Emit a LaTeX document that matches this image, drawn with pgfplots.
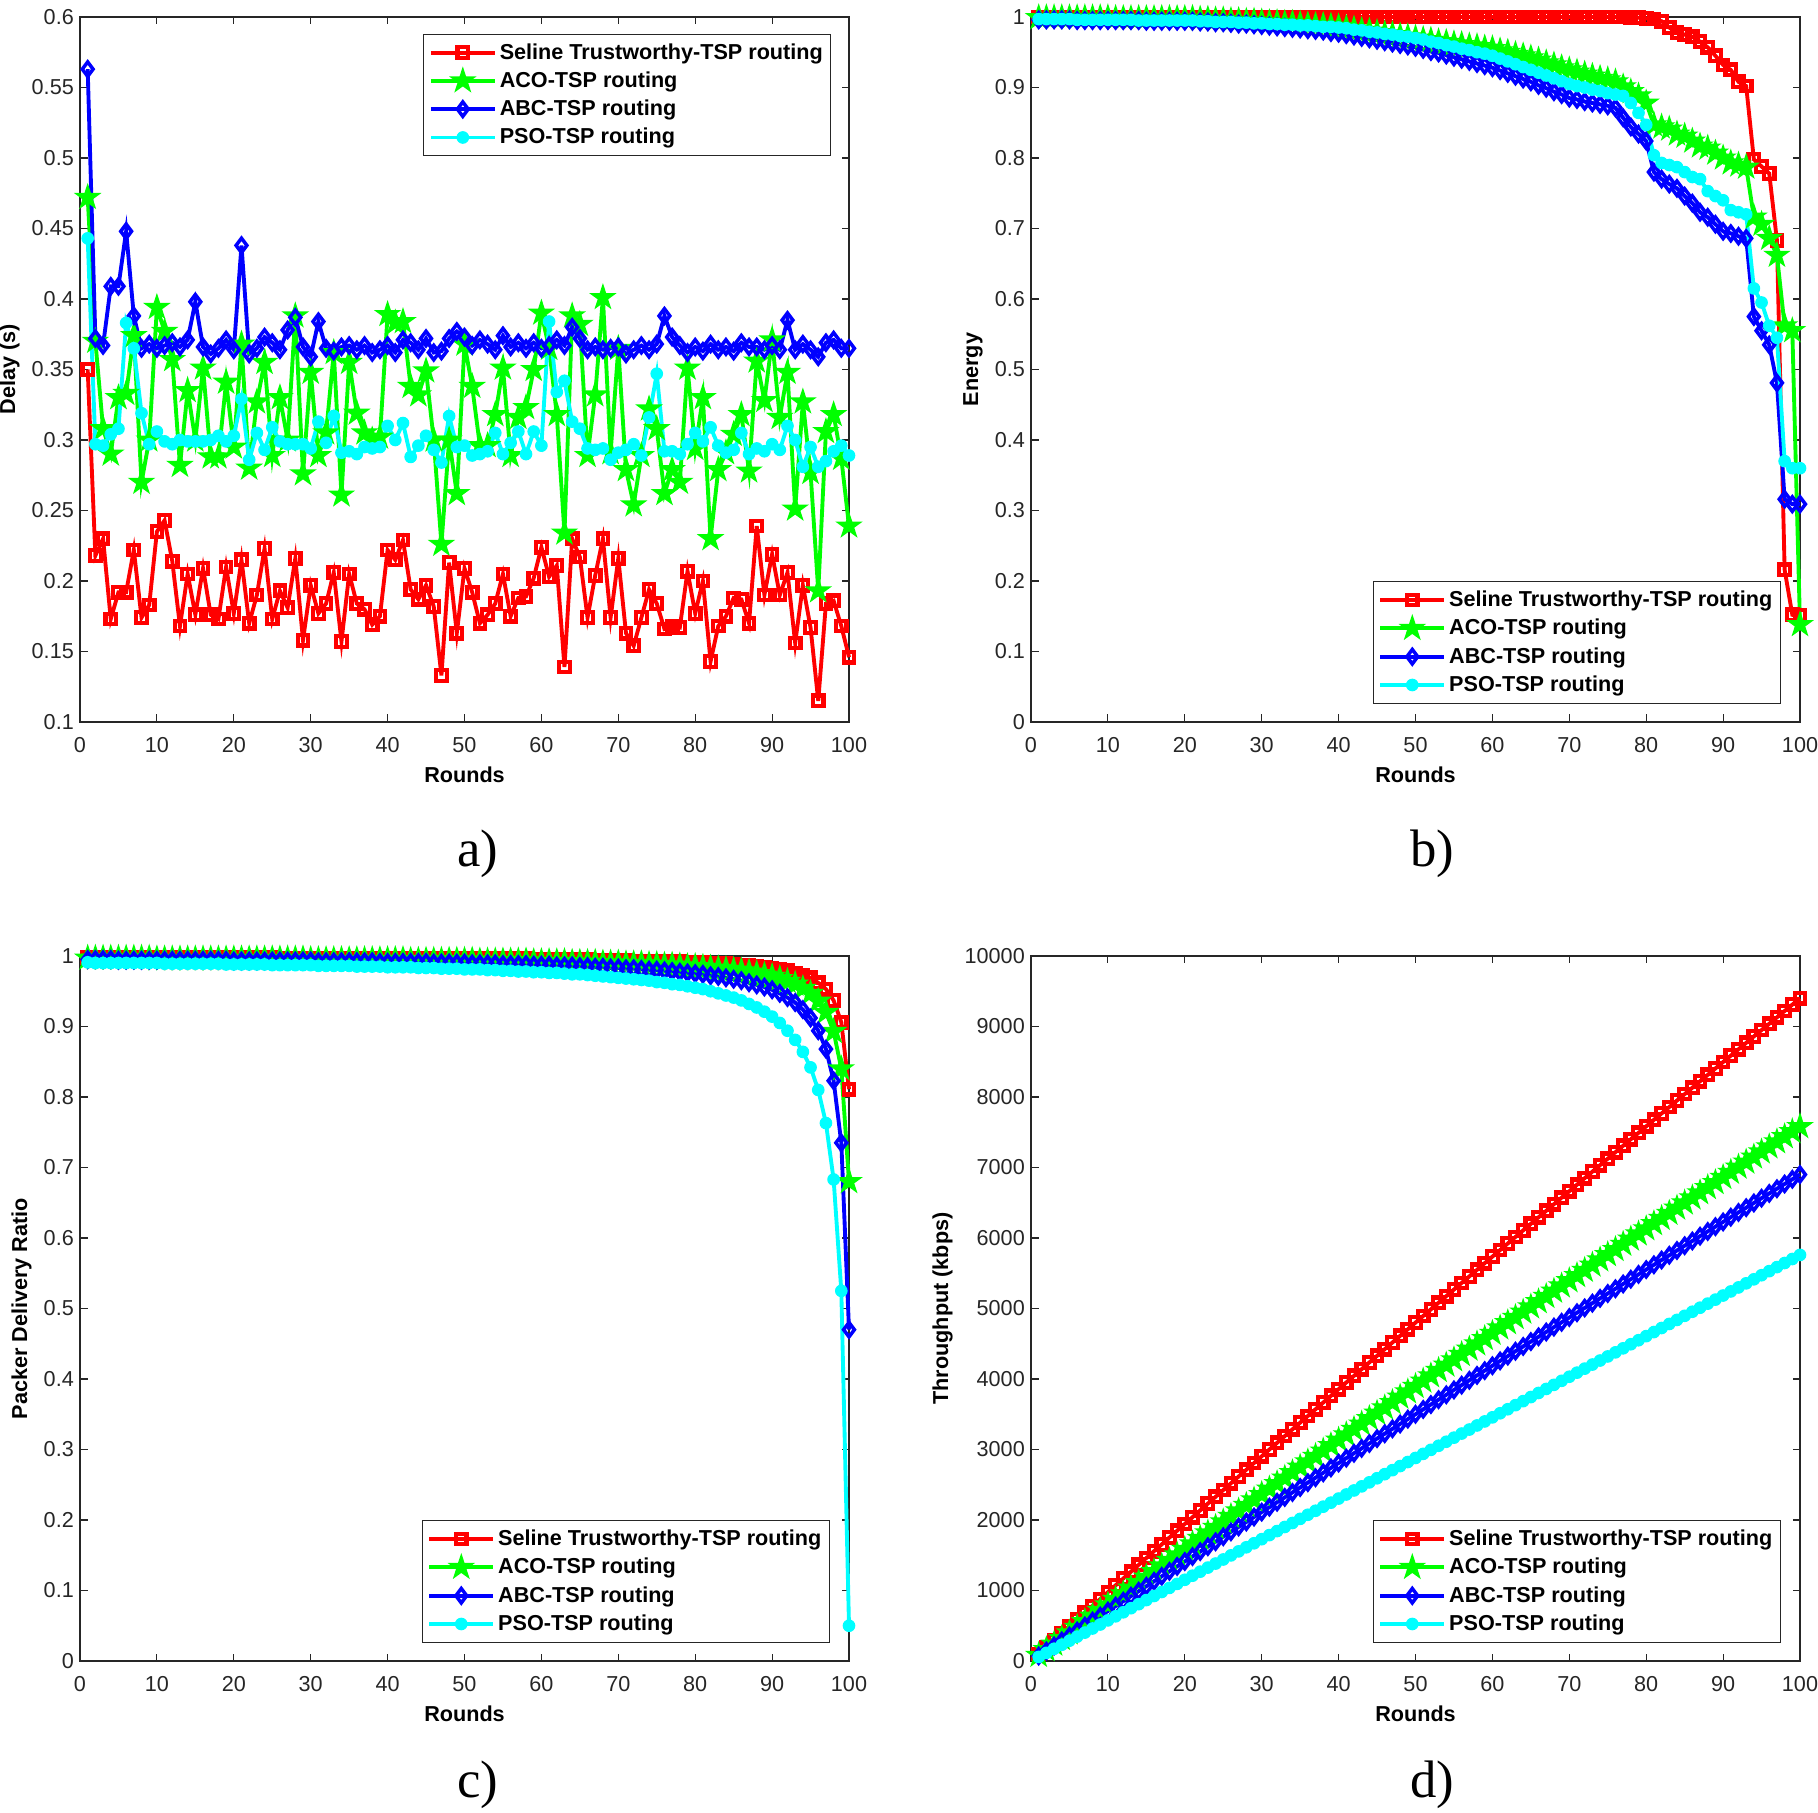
\documentclass[border=0pt]{standalone}
\usepackage{fontspec}
\setmainfont{Liberation Sans}
\newfontfamily\panelfont{Liberation Serif}
\usepackage{pgfplots}
\pgfplotsset{compat=1.18}
\usepackage{pgfplotstable}

\definecolor{mred}{rgb}{1,0,0}
\definecolor{mgreen}{rgb}{0,1,0}
\definecolor{mblue}{rgb}{0,0,1}
\definecolor{mcyan}{rgb}{0,1,1}

% five-pointed star like MATLAB's 'p' marker
\pgfdeclareplotmark{pentagram}{%
  \pgfpathmoveto{\pgfpointpolar{90}{\pgfplotmarksize}}%
  \pgfpathlineto{\pgfpointpolar{126}{0.382\pgfplotmarksize}}%
  \pgfpathlineto{\pgfpointpolar{162}{\pgfplotmarksize}}%
  \pgfpathlineto{\pgfpointpolar{198}{0.382\pgfplotmarksize}}%
  \pgfpathlineto{\pgfpointpolar{234}{\pgfplotmarksize}}%
  \pgfpathlineto{\pgfpointpolar{270}{0.382\pgfplotmarksize}}%
  \pgfpathlineto{\pgfpointpolar{306}{\pgfplotmarksize}}%
  \pgfpathlineto{\pgfpointpolar{342}{0.382\pgfplotmarksize}}%
  \pgfpathlineto{\pgfpointpolar{18}{\pgfplotmarksize}}%
  \pgfpathlineto{\pgfpointpolar{54}{0.382\pgfplotmarksize}}%
  \pgfpathclose
  \pgfusepathqfillstroke
}

\pgfplotsset{
  panel/.style={
    scale only axis, width=15.38cm, height=14.1cm,
    xmin=0, xmax=100, xtick={0,10,...,100},
    clip=false,
    axis line style={black!85, line width=0.6pt},
    every tick/.style={black!85, line width=0.6pt},
    major tick length=1.5mm,
    tick label style={font=\fontsize{12.3}{14}\selectfont, text=black!85},
    xticklabel style={yshift=-1.8mm},
    label style={font=\bfseries\fontsize{12.3}{14}\selectfont},
    every axis x label/.style={at={(axis description cs:0.5,0)}, anchor=center,
      yshift=-10.5mm, font=\bfseries\fontsize{12.3}{14}\selectfont},
    /pgf/number format/assume math mode=true,
    /pgf/number format/1000 sep={},
    scaled ticks=false,
    xlabel={Rounds},
    legend cell align=left,
    legend style={font=\bfseries\fontsize{12.3}{14}\selectfont, draw=black!85,
      line width=0.6pt, inner xsep=1mm, inner ysep=1.2mm, row sep=0.8mm,
      nodes={inner sep=0.6mm}},
    legend image code/.code={\draw[mark repeat=2,mark phase=2]
      plot coordinates {(0cm,0cm) (0.64cm,0cm) (1.28cm,0cm)};},
  },
  sr/.style={mred, line width=2.2pt, mark=square, mark size=3pt,
    mark options={fill=white, line width=2.4pt}},
  sg/.style={mgreen, line width=2.2pt, mark=pentagram, mark size=6.3pt,
    mark options={fill=mgreen, line width=1.2pt}},
  sb/.style={mblue, line width=2.2pt, mark=diamond, mark size=4.1pt,
    mark options={fill=white, line width=2pt}},
  sc/.style={mcyan, line width=2.2pt, mark=*, mark size=3.3pt,
    mark options={fill=mcyan, line width=0.6pt}},
}

% a) delay
\pgfplotstableread{
n r g b c
1 0.350 0.472 0.563 0.443
2 0.218 0.370 0.372 0.297
3 0.230 0.308 0.367 0.296
4 0.173 0.290 0.409 0.304
5 0.192 0.330 0.409 0.308
6 0.192 0.333 0.448 0.383
7 0.222 0.374 0.388 0.365
8 0.174 0.270 0.365 0.319
9 0.183 0.300 0.368 0.297
10 0.235 0.394 0.365 0.306
11 0.243 0.377 0.367 0.299
12 0.214 0.357 0.369 0.297
13 0.168 0.282 0.366 0.300
14 0.205 0.335 0.371 0.299
15 0.176 0.300 0.398 0.299
16 0.209 0.351 0.366 0.299
17 0.176 0.288 0.361 0.300
18 0.173 0.288 0.365 0.303
19 0.210 0.341 0.371 0.299
20 0.177 0.295 0.364 0.303
21 0.215 0.368 0.438 0.329
22 0.170 0.280 0.361 0.286
23 0.190 0.327 0.365 0.305
24 0.223 0.355 0.373 0.293
25 0.173 0.289 0.369 0.309
26 0.193 0.330 0.364 0.299
27 0.181 0.300 0.378 0.297
28 0.216 0.388 0.387 0.297
29 0.158 0.276 0.366 0.297
30 0.197 0.348 0.359 0.294
31 0.177 0.289 0.384 0.313
32 0.184 0.305 0.365 0.298
33 0.206 0.362 0.363 0.317
34 0.157 0.261 0.366 0.291
35 0.205 0.355 0.367 0.292
36 0.184 0.319 0.364 0.290
37 0.180 0.305 0.367 0.295
38 0.169 0.300 0.362 0.294
39 0.175 0.302 0.364 0.295
40 0.222 0.389 0.367 0.310
41 0.215 0.383 0.362 0.300
42 0.229 0.384 0.371 0.312
43 0.194 0.338 0.369 0.288
44 0.187 0.332 0.364 0.296
45 0.197 0.349 0.372 0.303
46 0.182 0.300 0.362 0.293
47 0.133 0.226 0.363 0.284
48 0.213 0.300 0.372 0.317
49 0.163 0.262 0.377 0.295
50 0.209 0.368 0.373 0.296
51 0.192 0.338 0.367 0.289
52 0.170 0.296 0.371 0.290
53 0.176 0.296 0.368 0.292
54 0.184 0.318 0.364 0.305
55 0.205 0.351 0.374 0.290
56 0.175 0.289 0.366 0.298
57 0.188 0.316 0.369 0.306
58 0.189 0.323 0.365 0.290
59 0.202 0.350 0.369 0.306
60 0.224 0.390 0.365 0.296
61 0.203 0.365 0.367 0.384
62 0.211 0.318 0.371 0.334
63 0.139 0.234 0.367 0.342
64 0.230 0.388 0.380 0.313
65 0.217 0.382 0.372 0.308
66 0.174 0.289 0.364 0.294
67 0.204 0.332 0.366 0.293
68 0.230 0.401 0.364 0.294
69 0.174 0.291 0.365 0.286
70 0.216 0.365 0.366 0.291
71 0.163 0.279 0.361 0.293
72 0.154 0.254 0.364 0.297
73 0.174 0.289 0.367 0.289
74 0.194 0.322 0.364 0.316
75 0.184 0.308 0.368 0.347
76 0.166 0.262 0.388 0.292
77 0.168 0.279 0.373 0.292
78 0.167 0.270 0.367 0.290
79 0.207 0.351 0.362 0.297
80 0.177 0.294 0.366 0.305
81 0.200 0.330 0.363 0.299
82 0.143 0.230 0.368 0.309
83 0.168 0.279 0.364 0.296
84 0.175 0.291 0.366 0.291
85 0.188 0.304 0.363 0.293
86 0.187 0.318 0.369 0.305
87 0.170 0.278 0.366 0.290
88 0.239 0.356 0.366 0.294
89 0.190 0.328 0.364 0.292
90 0.219 0.371 0.367 0.297
91 0.190 0.316 0.364 0.293
92 0.206 0.348 0.385 0.310
93 0.156 0.251 0.364 0.300
94 0.197 0.327 0.368 0.281
95 0.167 0.277 0.364 0.295
96 0.115 0.193 0.359 0.281
97 0.184 0.306 0.369 0.285
98 0.186 0.318 0.371 0.292
99 0.168 0.287 0.365 0.296
100 0.146 0.239 0.365 0.289
}\tabDelay

% b) energy
\pgfplotstableread{
n r g b c
1 1 0.999 0.996 0.997
2 1 0.999 0.996 0.997
3 1 0.999 0.996 0.997
4 1 0.999 0.996 0.997
5 1 0.999 0.996 0.997
6 1 0.999 0.995 0.996
7 1 0.999 0.995 0.996
8 1 0.999 0.995 0.996
9 1 0.999 0.995 0.996
10 1 0.999 0.995 0.996
11 1 0.998 0.995 0.996
12 1 0.998 0.995 0.996
13 1 0.998 0.995 0.996
14 1 0.998 0.995 0.995
15 1 0.998 0.994 0.995
16 1 0.998 0.994 0.995
17 1 0.998 0.994 0.995
18 1 0.998 0.994 0.995
19 1 0.998 0.994 0.995
20 1 0.998 0.994 0.995
21 1 0.998 0.994 0.995
22 1 0.997 0.993 0.994
23 1 0.997 0.993 0.994
24 1 0.996 0.992 0.993
25 1 0.996 0.992 0.993
26 1 0.995 0.991 0.993
27 1 0.995 0.990 0.992
28 1 0.994 0.990 0.992
29 1 0.994 0.989 0.991
30 1 0.993 0.988 0.991
31 1 0.992 0.987 0.990
32 1 0.992 0.986 0.990
33 1 0.991 0.985 0.989
34 1 0.991 0.984 0.989
35 1 0.990 0.983 0.988
36 1 0.989 0.982 0.988
37 1 0.988 0.981 0.987
38 1 0.988 0.980 0.986
39 1 0.987 0.978 0.986
40 1 0.986 0.977 0.985
41 1 0.984 0.975 0.984
42 1 0.983 0.973 0.982
43 1 0.981 0.971 0.981
44 1 0.980 0.969 0.979
45 1 0.978 0.967 0.978
46 1 0.976 0.965 0.976
47 1 0.975 0.963 0.975
48 1 0.973 0.961 0.973
49 1 0.972 0.959 0.972
50 1 0.970 0.957 0.970
51 1 0.968 0.954 0.968
52 1 0.967 0.951 0.965
53 1 0.965 0.949 0.963
54 1 0.964 0.946 0.960
55 1 0.962 0.943 0.958
56 1 0.961 0.940 0.955
57 1 0.959 0.937 0.953
58 1 0.958 0.934 0.950
59 1 0.956 0.931 0.948
60 1 0.955 0.928 0.945
61 1 0.952 0.924 0.941
62 1 0.950 0.920 0.937
63 1 0.947 0.916 0.933
64 1 0.945 0.912 0.929
65 1 0.942 0.908 0.925
66 1 0.939 0.903 0.921
67 1 0.935 0.899 0.917
68 1 0.932 0.894 0.913
69 1 0.928 0.890 0.909
70 1 0.925 0.885 0.905
71 1 0.922 0.883 0.902
72 1 0.919 0.880 0.900
73 1 0.916 0.878 0.897
74 1 0.913 0.876 0.895
75 1 0.911 0.874 0.892
76 1 0.908 0.871 0.890
77 1 0.901 0.857 0.888
78 0.999 0.894 0.844 0.878
79 0.999 0.888 0.834 0.864
80 0.998 0.878 0.824 0.847
81 0.997 0.847 0.780 0.804
82 0.994 0.844 0.770 0.793
83 0.985 0.841 0.763 0.790
84 0.978 0.834 0.757 0.787
85 0.975 0.831 0.746 0.780
86 0.972 0.824 0.736 0.773
87 0.965 0.817 0.723 0.770
88 0.957 0.814 0.716 0.753
89 0.945 0.807 0.706 0.746
90 0.932 0.800 0.696 0.740
91 0.925 0.793 0.693 0.726
92 0.908 0.790 0.689 0.723
93 0.902 0.787 0.686 0.720
94 0.798 0.716 0.575 0.615
95 0.788 0.706 0.555 0.595
96 0.778 0.686 0.535 0.562
97 0.683 0.662 0.481 0.545
98 0.216 0.562 0.316 0.370
99 0.152 0.555 0.309 0.360
100 0.151 0.138 0.309 0.360
}\tabEnergy

% c) packet delivery ratio
\pgfplotstableread{
n r g b c
1 0.998 0.997 0.995 0.991
2 0.998 0.997 0.995 0.990
3 0.998 0.997 0.995 0.990
4 0.998 0.997 0.995 0.990
5 0.998 0.997 0.994 0.990
6 0.998 0.997 0.994 0.990
7 0.998 0.997 0.994 0.990
8 0.998 0.997 0.994 0.990
9 0.998 0.997 0.994 0.990
10 0.998 0.996 0.994 0.990
11 0.998 0.996 0.994 0.989
12 0.998 0.996 0.994 0.989
13 0.998 0.996 0.994 0.989
14 0.998 0.996 0.994 0.989
15 0.998 0.996 0.994 0.989
16 0.998 0.996 0.994 0.989
17 0.998 0.996 0.994 0.989
18 0.998 0.996 0.994 0.989
19 0.998 0.996 0.994 0.988
20 0.998 0.996 0.993 0.988
21 0.998 0.996 0.993 0.988
22 0.998 0.996 0.993 0.988
23 0.998 0.996 0.993 0.988
24 0.998 0.996 0.993 0.988
25 0.998 0.996 0.993 0.987
26 0.997 0.996 0.993 0.987
27 0.997 0.996 0.993 0.987
28 0.997 0.996 0.993 0.987
29 0.997 0.996 0.993 0.987
30 0.997 0.995 0.993 0.987
31 0.997 0.995 0.992 0.986
32 0.997 0.995 0.992 0.986
33 0.997 0.995 0.992 0.986
34 0.997 0.995 0.992 0.986
35 0.997 0.995 0.992 0.986
36 0.997 0.995 0.992 0.985
37 0.997 0.995 0.992 0.985
38 0.997 0.995 0.992 0.985
39 0.997 0.995 0.991 0.985
40 0.997 0.995 0.991 0.984
41 0.997 0.995 0.991 0.984
42 0.997 0.995 0.991 0.984
43 0.997 0.994 0.991 0.984
44 0.997 0.994 0.991 0.983
45 0.997 0.994 0.991 0.983
46 0.997 0.994 0.990 0.983
47 0.997 0.994 0.990 0.982
48 0.996 0.994 0.990 0.982
49 0.996 0.994 0.990 0.982
50 0.996 0.994 0.990 0.981
51 0.996 0.994 0.989 0.981
52 0.996 0.993 0.989 0.981
53 0.996 0.993 0.989 0.980
54 0.996 0.993 0.989 0.980
55 0.996 0.993 0.988 0.979
56 0.996 0.993 0.988 0.979
57 0.996 0.993 0.988 0.978
58 0.996 0.993 0.988 0.978
59 0.995 0.992 0.987 0.977
60 0.995 0.992 0.987 0.977
61 0.995 0.992 0.987 0.976
62 0.995 0.992 0.986 0.976
63 0.995 0.992 0.986 0.975
64 0.995 0.991 0.986 0.974
65 0.995 0.991 0.985 0.974
66 0.995 0.991 0.985 0.973
67 0.994 0.991 0.984 0.972
68 0.994 0.990 0.984 0.971
69 0.994 0.990 0.983 0.970
70 0.994 0.990 0.983 0.969
71 0.994 0.989 0.982 0.968
72 0.993 0.989 0.982 0.967
73 0.993 0.989 0.981 0.966
74 0.993 0.988 0.980 0.965
75 0.993 0.988 0.980 0.963
76 0.992 0.987 0.979 0.962
77 0.992 0.987 0.978 0.960
78 0.992 0.986 0.977 0.959
79 0.991 0.985 0.976 0.957
80 0.991 0.985 0.975 0.955
81 0.991 0.984 0.974 0.953
82 0.990 0.983 0.972 0.950
83 0.989 0.982 0.971 0.947
84 0.989 0.981 0.969 0.944
85 0.988 0.980 0.967 0.941
86 0.987 0.979 0.965 0.937
87 0.987 0.977 0.962 0.932
88 0.985 0.975 0.959 0.927
89 0.984 0.973 0.956 0.921
90 0.983 0.971 0.952 0.914
91 0.981 0.968 0.947 0.905
92 0.979 0.964 0.941 0.894
93 0.976 0.960 0.934 0.881
94 0.973 0.954 0.924 0.864
95 0.969 0.947 0.912 0.842
96 0.962 0.936 0.894 0.810
97 0.953 0.920 0.868 0.763
98 0.937 0.893 0.823 0.683
99 0.906 0.840 0.735 0.525
100 0.811 0.680 0.470 0.050
}\tabPDR

% d) throughput
\pgfplotstableread{
n r g b c
1 98 80 71 58
2 196 160 142 115
3 294 240 213 173
4 391 319 284 230
5 489 399 354 288
6 587 478 425 346
7 684 558 496 403
8 781 637 567 461
9 879 717 637 518
10 976 796 708 576
11 1073 875 779 634
12 1170 954 849 691
13 1267 1033 920 749
14 1364 1112 990 806
15 1461 1191 1061 864
16 1558 1269 1131 922
17 1654 1348 1201 979
18 1751 1426 1272 1037
19 1848 1505 1342 1094
20 1944 1583 1412 1152
21 2040 1661 1482 1210
22 2137 1740 1552 1267
23 2233 1818 1622 1325
24 2329 1896 1692 1382
25 2425 1974 1763 1440
26 2521 2052 1832 1498
27 2617 2129 1902 1555
28 2713 2207 1972 1613
29 2808 2285 2042 1670
30 2904 2362 2112 1728
31 3000 2440 2182 1786
32 3095 2517 2252 1843
33 3190 2594 2321 1901
34 3286 2671 2391 1958
35 3381 2749 2461 2016
36 3476 2826 2530 2074
37 3571 2903 2600 2131
38 3666 2979 2669 2189
39 3761 3056 2739 2246
40 3856 3133 2808 2304
41 3951 3209 2877 2362
42 4045 3286 2947 2419
43 4140 3362 3016 2477
44 4235 3439 3085 2534
45 4329 3515 3155 2592
46 4423 3591 3224 2650
47 4518 3667 3293 2707
48 4612 3743 3362 2765
49 4706 3819 3431 2822
50 4800 3895 3500 2880
51 4894 3971 3569 2938
52 4988 4046 3638 2995
53 5082 4122 3707 3053
54 5175 4198 3776 3110
55 5269 4273 3845 3168
56 5363 4348 3913 3226
57 5456 4424 3982 3283
58 5549 4499 4051 3341
59 5643 4574 4119 3398
60 5736 4649 4188 3456
61 5829 4724 4257 3514
62 5922 4799 4325 3571
63 6015 4873 4394 3629
64 6108 4948 4462 3686
65 6201 5023 4531 3744
66 6294 5097 4599 3802
67 6386 5171 4667 3859
68 6479 5246 4736 3917
69 6572 5320 4804 3974
70 6664 5394 4872 4032
71 6756 5468 4940 4090
72 6849 5542 5008 4147
73 6941 5616 5076 4205
74 7033 5690 5144 4262
75 7125 5764 5213 4320
76 7217 5837 5280 4378
77 7309 5911 5348 4435
78 7401 5984 5416 4493
79 7492 6058 5484 4550
80 7584 6131 5552 4608
81 7676 6204 5620 4666
82 7767 6278 5688 4723
83 7858 6351 5755 4781
84 7950 6424 5823 4838
85 8041 6497 5891 4896
86 8132 6569 5958 4954
87 8223 6642 6026 5011
88 8314 6715 6093 5069
89 8405 6787 6161 5126
90 8496 6860 6228 5184
91 8587 6932 6295 5242
92 8677 7005 6363 5299
93 8768 7077 6430 5357
94 8859 7149 6497 5414
95 8949 7221 6565 5472
96 9039 7293 6632 5530
97 9130 7365 6699 5587
98 9220 7437 6766 5645
99 9310 7508 6833 5702
100 9400 7580 6900 5760
}\tabThr

\begin{document}
\begin{tikzpicture}
\useasboundingbox (0,0) rectangle (36.36cm,36.24cm);

\begin{axis}[panel, at={(1.6cm,21.8cm)}, anchor=south west,
  ymin=0.1, ymax=0.6,
  ytick={0.1,0.15,0.2,0.25,0.3,0.35,0.4,0.45,0.5,0.55,0.6},
  ylabel={Delay (s)},
  legend style={at={(0.977,0.976)}, anchor=north east}]
  \addplot[sr] table[x=n,y=r]{\tabDelay};
  \addplot[sg] table[x=n,y=g]{\tabDelay};
  \addplot[sb] table[x=n,y=b]{\tabDelay};
  \addplot[sc] table[x=n,y=c]{\tabDelay};
  \legend{Seline Trustworthy-TSP routing, ACO-TSP routing, ABC-TSP routing, PSO-TSP routing}
\end{axis}

\begin{axis}[panel, at={(20.62cm,21.8cm)}, anchor=south west,
  ymin=0, ymax=1, ytick={0,0.1,...,1},
  ylabel={Energy},
  legend style={at={(0.975,0.026)}, anchor=south east}]
  \addplot[sr] table[x=n,y=r]{\tabEnergy};
  \addplot[sg] table[x=n,y=g]{\tabEnergy};
  \addplot[sb] table[x=n,y=b]{\tabEnergy};
  \addplot[sc] table[x=n,y=c]{\tabEnergy};
  \legend{Seline Trustworthy-TSP routing, ACO-TSP routing, ABC-TSP routing, PSO-TSP routing}
\end{axis}

\begin{axis}[panel, at={(1.6cm,3.02cm)}, anchor=south west,
  ymin=0, ymax=1, ytick={0,0.1,...,1},
  ylabel={Packer Delivery Ratio},
  legend style={at={(0.975,0.026)}, anchor=south east}]
  \addplot[sr] table[x=n,y=r]{\tabPDR};
  \addplot[sg] table[x=n,y=g]{\tabPDR};
  \addplot[sb] table[x=n,y=b]{\tabPDR};
  \addplot[sc] table[x=n,y=c]{\tabPDR};
  \legend{Seline Trustworthy-TSP routing, ACO-TSP routing, ABC-TSP routing, PSO-TSP routing}
\end{axis}

\begin{axis}[panel, at={(20.62cm,3.02cm)}, anchor=south west,
  ymin=0, ymax=10000, ytick={0,1000,...,10000},
  ylabel={Throughput (kbps)},
  legend style={at={(0.975,0.026)}, anchor=south east}]
  \addplot[sr] table[x=n,y=r]{\tabThr};
  \addplot[sg] table[x=n,y=g]{\tabThr};
  \addplot[sb] table[x=n,y=b]{\tabThr};
  \addplot[sc] table[x=n,y=c]{\tabThr};
  \legend{Seline Trustworthy-TSP routing, ACO-TSP routing, ABC-TSP routing, PSO-TSP routing}
\end{axis}

\node[font=\panelfont\fontsize{30}{32}\selectfont] at (9.55cm,19.16cm) {a)};
\node[font=\panelfont\fontsize{30}{32}\selectfont] at (28.64cm,19.16cm) {b)};
\node[font=\panelfont\fontsize{30}{32}\selectfont] at (9.55cm,0.54cm) {c)};
\node[font=\panelfont\fontsize{30}{32}\selectfont] at (28.64cm,0.54cm) {d)};
\end{tikzpicture}
\end{document}
